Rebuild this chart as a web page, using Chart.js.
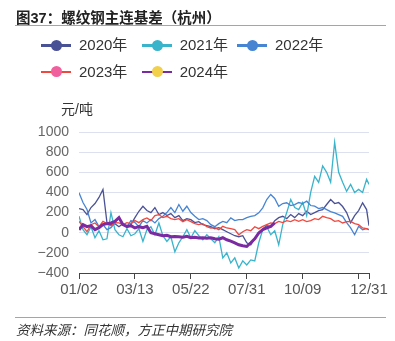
<!DOCTYPE html>
<html>
<head>
<meta charset="utf-8">
<script src="https://cdn.jsdelivr.net/npm/chart.js@4.4.1/dist/chart.umd.min.js"></script>
<style>
    body { margin: 0; background: #fff; }
    #wrap { position: relative; width: 395px; height: 341px; overflow: hidden; font-family: "Liberation Sans", "Noto Sans CJK SC", sans-serif; color: #333; }
    #basisChart { position: absolute; left: 0; top: 0; }
    .title { position: absolute; left: 16px; top: 6px; font-size: 14.5px; font-weight: bold; color: #222; white-space: nowrap; }
    .rule { position: absolute; left: 15px; width: 371px; height: 0; border-top: 1.5px solid #8aaccc; }
    .unit { position: absolute; left: 61px; top: 98px; font-size: 14px; color: #333; }
    .source { position: absolute; left: 16px; top: 319px; font-size: 13.5px; font-style: italic; color: #333; white-space: nowrap; }
    .lg { position: absolute; height: 20px; font-size: 15px; color: #333; white-space: nowrap; }
    .lg .mk { position: absolute; left: 0; top: 9px; width: 30px; height: 2.5px; }
    .lg .dot { position: absolute; left: 10px; top: 4.5px; width: 11px; height: 11px; border-radius: 50%; }
    .lg .txt { position: absolute; top: 1px; line-height: 18px; }
</style>
</head>
<body>
<div id="wrap">
    <canvas id="basisChart" width="395" height="341"></canvas>
    <div class="title">图37：螺纹钢主连基差（杭州）</div>
    <div class="rule" style="top:25px"></div>
    <div id="legend"></div>
    <div class="unit">元/吨</div>
    <div class="rule" style="top:317px"></div>
    <div class="source">资料来源：同花顺，方正中期研究院</div>
</div>
<script>
// days counted from 01/02, one reading every 5 days
const days = [0, 5, 10, 15, 20, 25, 30, 35, 40, 45, 50, 55, 60, 65, 70, 75, 80, 85, 90, 95,
    100, 105, 110, 115, 120, 125, 130, 135, 140, 145, 150, 155, 160, 165, 170, 175, 180, 185, 190, 195,
    200, 205, 210, 215, 220, 225, 230, 235, 240, 245, 250, 255, 260, 265, 270, 275, 280, 285, 290, 295,
    300, 305, 310, 315, 320, 325, 330, 335, 340, 345, 350, 355, 360, 363];

const seriesNames = ['2020年', '2021年', '2022年', '2023年', '2024年'];

const basis2020 = [240, 230, 180, 250, 290, 350, 430, 100, 80, 90,
    60, 90, 50, 80, 150, 213, 263, 220, 200, 250,
    180, 200, 170, 190, 150, 170, 120, 140, 130, 100,
    110, 80, 70, 60, 40, 50, 30, 10, -10, -30,
    -40, -30, -100, -120, -60, 0, 40, 70, 60, 120,
    150, 163, 140, 180, 150, 190, 170, 213, 180, 200,
    220, 230, 280, 330, 290, 300, 260, 200, 100, 170,
    220, 297, 230, 70];

const basis2021 = [163, 30, -20, 60, -50, 20, -70, -60, 200, 30,
    -20, -40, 40, -30, -10, 40, -87, 30, 60, -20,
    97, -30, -87, -40, -190, -100, -40, 30, -50, 20,
    -30, -70, -20, -60, -100, -40, -250, -200, -300, -250,
    -350, -280, -320, -270, -280, -100, 30, 60, -20, 20,
    -120, 80, 200, 330, 250, 230, 300, 170, 400, 560,
    500, 663, 600, 500, 900, 600, 500, 410, 480, 400,
    430, 400, 530, 480];

const basis2022 = [397, 300, 230, 97, 130, 60, 80, 30, 50, 97,
    150, 80, 60, 120, 100, 60, 120, 97, 130, 97,
    140, 163, 200, 250, 200, 280, 213, 263, 200, 163,
    130, 140, 120, 80, 60, 90, 113, 100, 147, 120,
    130, 130, 150, 163, 170, 197, 247, 330, 380, 340,
    263, 290, 297, 270, 280, 300, 290, 313, 270, 263,
    240, 250, 230, 210, 197, 180, 163, 100, 47, -20,
    63, 30, 40, 30];

const basis2023 = [113, 60, 10, 80, 97, 60, 113, 90, 70, 100,
    97, 80, 100, 90, 120, 100, 130, 147, 120, 170,
    180, 150, 163, 140, 130, 140, 110, 130, 110, 90,
    80, 90, 60, 47, 50, 30, 63, 47, 40, 30,
    -20, 10, 30, 20, 60, 40, 63, 80, 97, 90,
    113, 100, 120, 110, 130, 113, 130, 110, 120, 140,
    130, 163, 150, 140, 113, 120, 97, 110, 113, 90,
    80, 47, 40, 30];

// 2024 stops at the end of August
const basis2024 = [30, 80, 60, 70, 30, 50, 80, 90, 97, 113,
    150, 80, 63, 70, 47, 60, 50, 63, 0, -10,
    -20, -30, -25, -40, -37, -40, -45, -35, -50, -45,
    -53, -50, -55, -50, -60, -65, -50, -70, -83, -100,
    -120, -130, -137, -100, -60, -3, 30, 47, 63, 97];

const tickDays = [0, 70, 140, 210, 280, 350, 363];
const tickLabels = ['01/02', '03/13', '05/22', '07/31', '10/09', '', '12/31'];

const lineColors = ['#4a5296', '#3ab4cb', '#4785d3', '#f0483e', '#7b2aa2'];
const dotColors = ['#4a5296', '#3ab4cb', '#4785d3', '#f0609e', '#f2d04a'];

const allSeries = [basis2020, basis2021, basis2022, basis2023, basis2024];

// legend built by hand: line with a dot on it
const legendPos = [[41, 45], [141.7, 45], [237, 45], [41, 71.7], [141.7, 71.7]];
const legendBox = document.getElementById('legend');
seriesNames.forEach((name, i) => {
    const item = document.createElement('div');
    item.className = 'lg';
    item.style.left = legendPos[i][0] + 'px';
    item.style.top = (legendPos[i][1] - 10) + 'px';
    item.innerHTML = `<div class="mk" style="background:${lineColors[i]}"></div>` +
        `<div class="dot" style="background:${dotColors[i]}"></div>` +
        `<div class="txt" style="left:38px">${name}</div>`;
    legendBox.appendChild(item);
});

const ctx = document.getElementById('basisChart').getContext('2d');

let basisChart = new Chart(ctx, {
    type: 'line',
    data: {
        datasets: allSeries.map((vals, i) => ({
            label: seriesNames[i],
            data: vals.map((v, j) => ({ x: days[j], y: v })),
            borderColor: lineColors[i],
            backgroundColor: lineColors[i],
            borderWidth: i === 4 ? 3 : 1.3,
            pointRadius: 0,
            tension: 0,
            order: 5 - i // later years on top
        }))
    },
    options: {
        responsive: false,
        animation: false,
        devicePixelRatio: 1,
        layout: { padding: { left: 0, right: 26, top: 132, bottom: 0 } },
        plugins: {
            legend: { display: false },
            tooltip: { enabled: false }
        },
        scales: {
            x: {
                type: 'linear',
                min: 0,
                max: 363,
                afterBuildTicks: (scale) => {
                    scale.ticks = tickDays.map(v => ({ value: v }));
                },
                afterFit: (scale) => { scale.height = 68; },
                grid: {
                    drawOnChartArea: false,
                    drawTicks: true,
                    tickLength: 6,
                    color: '#444'
                },
                border: { display: true, color: '#444', width: 1 },
                ticks: {
                    autoSkip: false,
                    maxRotation: 0,
                    padding: 2,
                    color: '#555',
                    font: { family: 'Liberation Sans', size: 15 },
                    callback: (value) => tickLabels[tickDays.indexOf(value)]
                }
            },
            y: {
                min: -400,
                max: 1000,
                afterFit: (scale) => { scale.width = 79; },
                grid: { color: '#dde0ee', drawTicks: false },
                border: { display: false },
                ticks: {
                    stepSize: 200,
                    padding: 10,
                    color: '#666',
                    font: { family: 'Liberation Sans', size: 14 },
                    callback: (value) => String(value).replace('-', '−')
                }
            }
        }
    }
});
</script>
</body>
</html>
